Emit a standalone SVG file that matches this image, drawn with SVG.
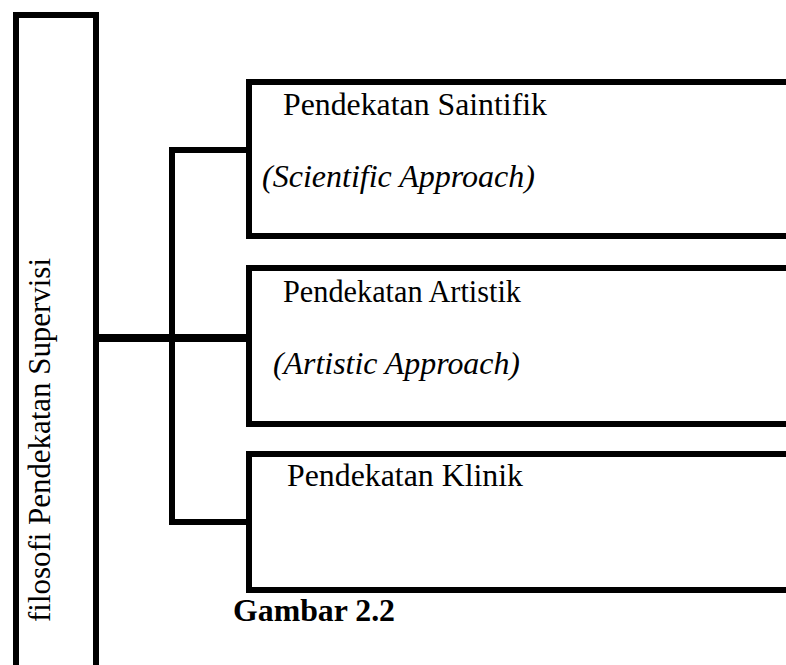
<svg xmlns="http://www.w3.org/2000/svg" width="786" height="665" viewBox="0 0 786 665">
<style>
.ln{fill:none;stroke:#000;stroke-width:6;stroke-linejoin:miter;stroke-linecap:square}
.t{font-family:"Liberation Serif","Times New Roman",serif;font-size:31px;fill:#000}
.i{font-style:italic}
.b{font-weight:bold}
</style>
<rect width="786" height="665" fill="#fff"/>
<g id="root">
<path class="ln" d="M16,680 V15 H96 V680"/>
<text class="t" transform="translate(50,622) rotate(-90)" textLength="364" lengthAdjust="spacingAndGlyphs">filosofi Pendekatan Supervisi</text>
</g>
<g id="connectors">
<path d="M96,338 H249" fill="none" stroke="#000" stroke-width="8"/>
<path class="ln" d="M249,150 H172 V522 H249" style="stroke-linecap:butt"/>
</g>
<g id="node-saintifik">
<rect class="ln" x="249" y="82" width="580" height="154"/>
<text class="t" x="283" y="115" textLength="264" lengthAdjust="spacingAndGlyphs">Pendekatan Saintifik</text>
<text class="t i" x="262" y="187" textLength="273" lengthAdjust="spacingAndGlyphs">(Scientific Approach)</text>
</g>
<g id="node-artistik">
<rect class="ln" x="249" y="268" width="580" height="156"/>
<text class="t" x="283" y="302" textLength="238" lengthAdjust="spacingAndGlyphs">Pendekatan Artistik</text>
<text class="t i" x="273" y="374" textLength="247" lengthAdjust="spacingAndGlyphs">(Artistic Approach)</text>
</g>
<g id="node-klinik">
<rect class="ln" x="249" y="454" width="580" height="136"/>
<text class="t" x="287" y="486" textLength="236" lengthAdjust="spacingAndGlyphs">Pendekatan Klinik</text>
</g>
<text id="caption" class="t b" x="233" y="621" textLength="162" lengthAdjust="spacingAndGlyphs">Gambar 2.2</text>
</svg>
